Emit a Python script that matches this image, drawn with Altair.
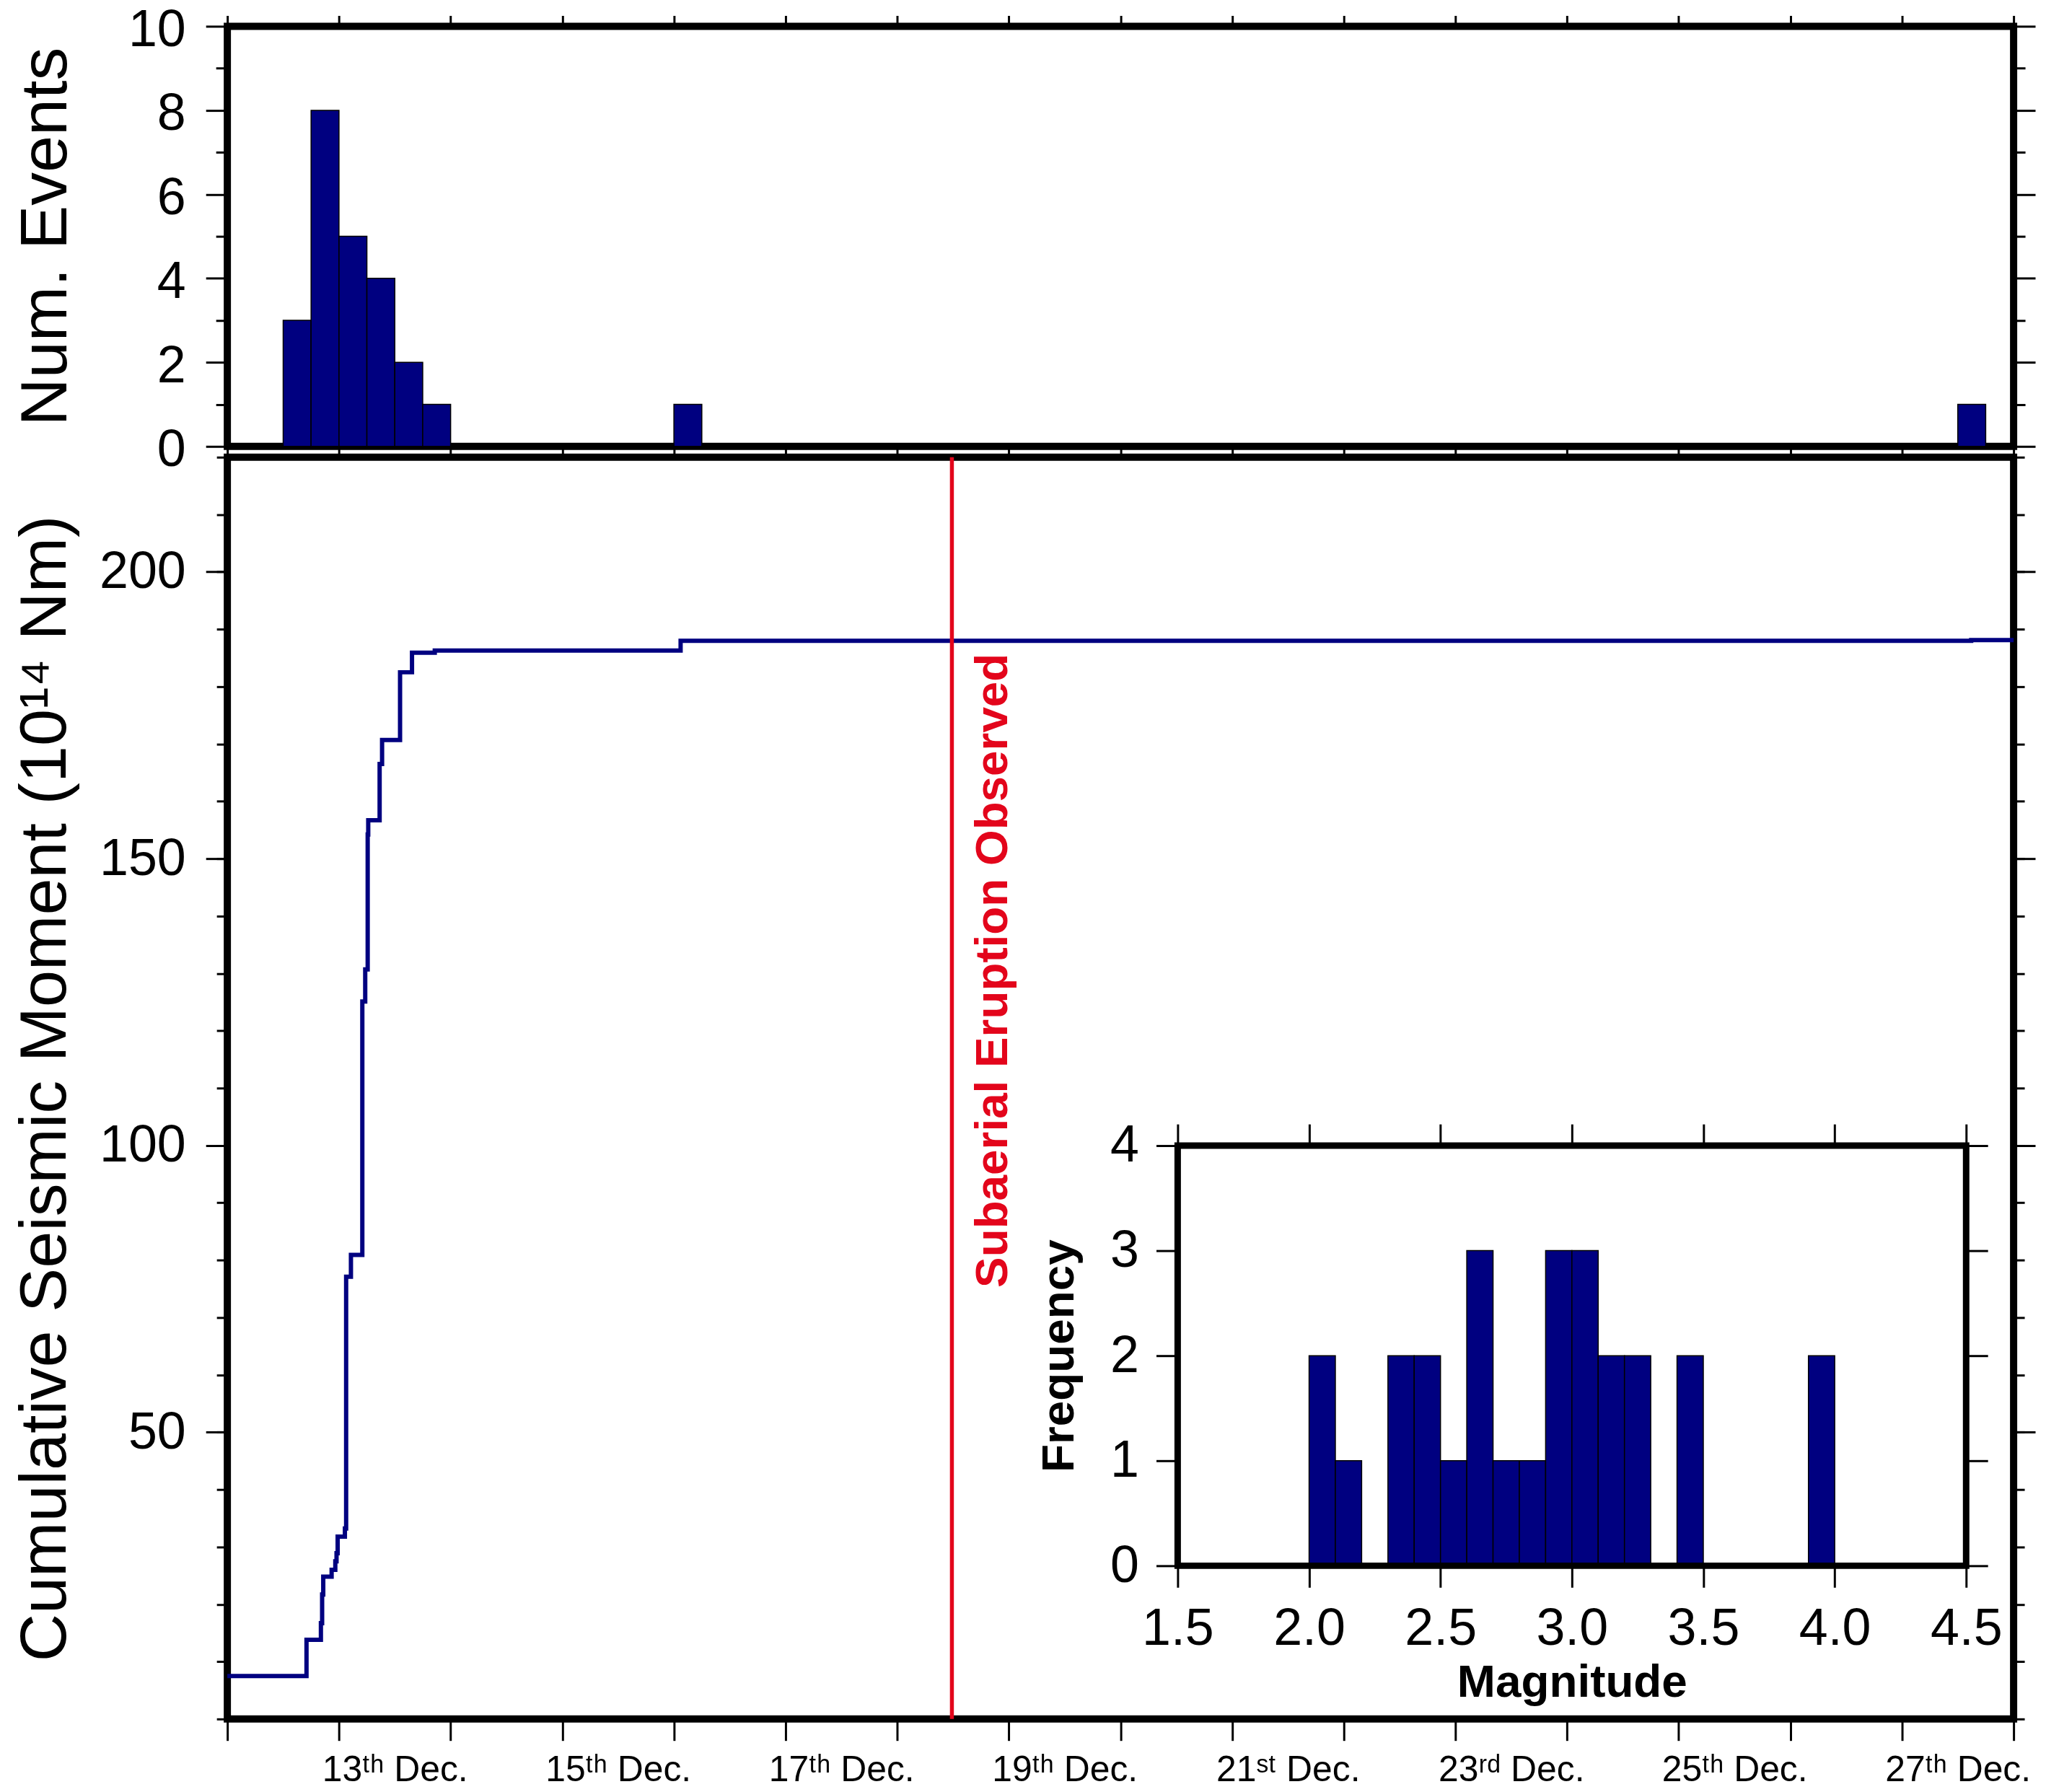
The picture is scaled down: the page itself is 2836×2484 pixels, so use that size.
import altair as alt
import pandas as pd

NAVY = "#000080"
RED = "#E3051B"
FONT = "Liberation Sans, Arial, Helvetica, sans-serif"

# ---------------- data ----------------
# top histogram: number of events per 6-hour bin (bin start, day of December)
hist_bin_start = [12.5, 12.75, 13.0, 13.25, 13.5, 13.75, 16.0, 27.5]
hist_counts = [3, 8, 5, 4, 2, 1, 1, 1]
HIST_BIN = 0.25

# cumulative seismic moment (10^14 Nm), step curve
cum_days = [12.0, 12.709, 12.838, 12.849, 12.859, 12.934, 12.967, 12.978, 12.988,
            13.053, 13.064, 13.107, 13.209, 13.235, 13.257, 13.262, 13.364, 13.386,
            13.547, 13.654, 13.858, 16.06, 27.62, 28.0]
cum_moment = [7.5, 13.8, 16.7, 21.7, 24.8, 26.0, 27.5, 28.9, 31.8,
              33.2, 77.1, 80.9, 125.1, 130.7, 154.2, 156.7, 166.5, 170.7,
              182.5, 185.9, 186.3, 188.0, 188.1, 188.1]

# eruption marker
eruption_day = [18.49]
eruption_label = ["Subaerial Eruption Observed"]
eruption_label_moment = [130.5]

# inset: magnitude histogram
mag_bin_start = [2.0, 2.1, 2.3, 2.4, 2.5, 2.6, 2.7, 2.8, 2.9, 3.0, 3.1, 3.2, 3.4, 3.9]
mag_counts = [2, 1, 2, 2, 1, 3, 1, 1, 3, 3, 2, 2, 2, 2]
MAG_BIN = 0.1

# axes
day_domain = [12, 28]
day_ticks = list(range(12, 29))
day_label_days = [13, 15, 17, 19, 21, 23, 25, 27]
day_label_suffix = ["th", "th", "th", "th", "st", "rd", "th", "th"]
top_major = [0, 2, 4, 6, 8, 10]
top_minor = [1, 3, 5, 7, 9]
moment_domain = [0, 220]
moment_major = [50, 100, 150, 200]
moment_minor = list(range(0, 221, 10))
mag_domain = [1.5, 4.5]
mag_ticks = [1.5, 2.0, 2.5, 3.0, 3.5, 4.0, 4.5]
freq_domain = [0, 4]
freq_ticks = [0, 1, 2, 3, 4]

# ---------------- layout ----------------
W, H_TOP, H_MAIN = 2483, 584, 1754
INSET_X_RANGE = [1321, 2417]
INSET_Y_RANGE = [1541, 957]

SUP = {"th": "\u1d57\u02b0", "st": "\u02e2\u1d57", "rd": "\u02b3\u1d48"}
label_expr = ""
for d, s in zip(day_label_days, day_label_suffix):
    label_expr += f"datum.value == {d + 0.5} ? '{d}{SUP[s]} Dec.' : "
label_expr += "''"

hist_df = pd.DataFrame({"start": hist_bin_start,
                        "end": [s + HIST_BIN for s in hist_bin_start],
                        "count": hist_counts})
cum_df = pd.DataFrame({"day": cum_days, "moment": cum_moment})
erupt_df = pd.DataFrame({"day": eruption_day, "label": eruption_label,
                         "moment": eruption_label_moment})
mag_df = pd.DataFrame({"m0": mag_bin_start,
                       "m1": [round(m + MAG_BIN, 2) for m in mag_bin_start],
                       "count": mag_counts})
frame_df = pd.DataFrame({"m0": [mag_domain[0]], "m1": [mag_domain[1]],
                         "f0": [freq_domain[0]], "f1": [freq_domain[1]]})


def tick_axis(orient, values, size, offset=0):
    return alt.Axis(orient=orient, values=values, tickSize=size, labels=False,
                    title=None, domain=False, grid=False, offset=offset)


# ---------------- top panel ----------------
x_top = alt.Scale(domain=day_domain, nice=False, zero=False)
y_top = alt.Scale(domain=[0, 10], nice=False, zero=False)

top_bars = alt.Chart(hist_df).mark_bar(fill=NAVY, stroke="black", strokeWidth=1.5).encode(
    x=alt.X("start:Q", scale=x_top, axis=tick_axis("top", day_ticks, 15)),
    x2="end:Q",
    y=alt.Y("count:Q", scale=y_top,
            axis=alt.Axis(orient="left", values=top_major, tickSize=30, labelPadding=28,
                          labelFontSize=72, labelOffset=5, title="Num. Events",
                          titleFontSize=92, titlePadding=67, domain=False, grid=False)),
    y2=alt.datum(0),
)
top_ax2 = alt.Chart(hist_df).mark_point(opacity=0).encode(
    x=alt.X("start:Q", scale=x_top, axis=tick_axis("bottom", day_ticks, 12)),
    y=alt.Y("count:Q", scale=y_top, axis=tick_axis("left", top_minor, 16)),
)
top_ax3 = alt.Chart(hist_df).mark_point(opacity=0).encode(
    x=alt.X("start:Q", scale=x_top, axis=None),
    y=alt.Y("count:Q", scale=y_top, axis=tick_axis("right", top_major, 30)),
)
top_ax4 = alt.Chart(hist_df).mark_point(opacity=0).encode(
    x=alt.X("start:Q", scale=x_top, axis=None),
    y=alt.Y("count:Q", scale=y_top, axis=tick_axis("right", top_minor, 16)),
)
top = alt.layer(top_bars, top_ax2, top_ax3, top_ax4).resolve_axis(
    x="independent", y="independent").properties(width=W, height=H_TOP)

# ---------------- main panel ----------------
def xs():
    return alt.Scale(domain=day_domain, nice=False, zero=False)


def ys():
    return alt.Scale(domain=moment_domain, nice=False, zero=False)


line = alt.Chart(cum_df).mark_line(interpolate="step-after", color=NAVY, strokeWidth=6).encode(
    x=alt.X("day:Q", scale=xs(), axis=tick_axis("bottom", day_ticks, 30)),
    y=alt.Y("moment:Q", scale=ys(),
            axis=alt.Axis(orient="left", values=moment_major, tickSize=30, labelPadding=28,
                          labelFontSize=72, title="Cumulative Seismic Moment (10\u00b9\u2074 Nm)",
                          titleFontSize=92, titlePadding=28, domain=False, grid=False)),
)
main_ax2 = alt.Chart(cum_df).mark_point(opacity=0).encode(
    x=alt.X("day:Q", scale=xs(),
            axis=alt.Axis(orient="bottom", values=[d + 0.5 for d in day_label_days],
                          tickSize=30, ticks=True, tickOpacity=0, labelExpr=label_expr,
                          labelFontSize=50, labelPadding=16,
                          title=None, domain=False, grid=False)),
    y=alt.Y("moment:Q", scale=ys(), axis=tick_axis("left", moment_minor, 15)),
)
main_ax3 = alt.Chart(cum_df).mark_point(opacity=0).encode(
    x=alt.X("day:Q", scale=xs(), axis=None),
    y=alt.Y("moment:Q", scale=ys(), axis=tick_axis("right", moment_major, 30)),
)
main_ax4 = alt.Chart(cum_df).mark_point(opacity=0).encode(
    x=alt.X("day:Q", scale=xs(), axis=None),
    y=alt.Y("moment:Q", scale=ys(), axis=tick_axis("right", moment_minor, 15)),
)
erupt_rule = alt.Chart(erupt_df).mark_rule(color=RED, strokeWidth=5.5).encode(
    x=alt.X("day:Q", scale=xs(), axis=None),
)
erupt_text = alt.Chart(erupt_df).mark_text(
    angle=270, align="center", baseline="top", dy=26, color=RED,
    font=FONT, fontSize=64, fontWeight="bold").encode(
    x=alt.X("day:Q", scale=xs(), axis=None),
    y=alt.Y("moment:Q", scale=ys(), axis=None),
    text="label:N",
)

# inset
xi = alt.Scale(domain=mag_domain, range=INSET_X_RANGE, nice=False, zero=False)
yi = alt.Scale(domain=freq_domain, range=INSET_Y_RANGE, nice=False, zero=False)
off_bottom = -(H_MAIN - INSET_Y_RANGE[0])
off_left = -INSET_X_RANGE[0]
off_top = -INSET_Y_RANGE[1]
off_right = -(W - INSET_X_RANGE[1])

inset_bars = alt.Chart(mag_df).mark_bar(fill=NAVY, stroke="black", strokeWidth=1.5).encode(
    x=alt.X("m0:Q", scale=xi,
            axis=alt.Axis(orient="bottom", offset=off_bottom, values=mag_ticks, format=".1f",
                          tickSize=30, labelFontSize=72, labelPadding=22,
                          title="Magnitude", titleFontSize=64, titleFontWeight="bold",
                          titlePadding=8, domain=False, grid=False)),
    x2="m1:Q",
    y=alt.Y("count:Q", scale=yi,
            axis=alt.Axis(orient="left", offset=off_left, values=freq_ticks,
                          tickSize=30, labelFontSize=72, labelPadding=24,
                          title="Frequency", titleFontSize=64, titleFontWeight="bold",
                          titlePadding=38, domain=False, grid=False)),
    y2=alt.datum(0),
)
inset_mirror = alt.Chart(mag_df).mark_point(opacity=0).encode(
    x=alt.X("m0:Q", scale=xi, axis=tick_axis("top", mag_ticks, 30, off_top)),
    y=alt.Y("count:Q", scale=yi, axis=tick_axis("right", freq_ticks, 30, off_right)),
)
inset_frame = alt.Chart(frame_df).mark_rect(fill="white", fillOpacity=0, stroke="black",
                                            strokeWidth=9).encode(
    x=alt.X("m0:Q", scale=xi, axis=None),
    x2="m1:Q",
    y=alt.Y("f0:Q", scale=yi, axis=None),
    y2="f1:Q",
)

main = alt.layer(line, main_ax2, main_ax3, main_ax4, erupt_rule, erupt_text,
                 inset_bars, inset_mirror, inset_frame).resolve_scale(
    x="independent", y="independent").resolve_axis(
    x="independent", y="independent").properties(width=W, height=H_MAIN)

chart = alt.vconcat(top, main, spacing=15, bounds="flush").configure_view(
    stroke="black", strokeWidth=10).configure_axis(
    labelFont=FONT, titleFont=FONT, labelColor="black", titleColor="black",
    tickColor="black", tickWidth=3, labelOverlap=False, labelFlush=False,
    labelLimit=1000, titleFontWeight="normal").properties(
    padding={"left": 3, "top": -11, "right": 0, "bottom": 0})

chart.save("out.html", embed_options={"renderer": "svg", "actions": False})
